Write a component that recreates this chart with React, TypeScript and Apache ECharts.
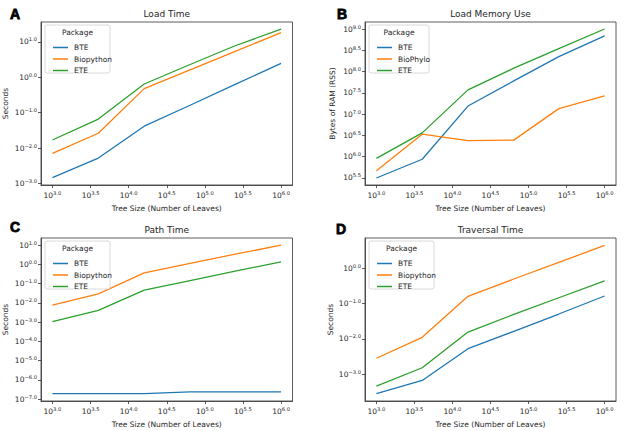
import React, { useEffect, useRef } from "react";
import * as echarts from "echarts";

// Tree sizes (number of leaves)
const treeSizes = [1000, 4000, 16000, 64000, 250000, 1000000];
const xTickExps = [3.0, 3.5, 4.0, 4.5, 5.0, 5.5, 6.0];

const loadTimeBTE = [-2.83, -2.28, -1.38, -0.79, -0.2, 0.39];
const loadTimeBiopython = [-2.15, -1.58, -0.32, 0.21, 0.73, 1.26];
const loadTimeETE = [-1.77, -1.18, -0.19, 0.36, 0.89, 1.36];
const loadTimeTicks = [-3, -2, -1, 0, 1];

const memoryBTE = [5.5, 5.94, 7.19, 7.78, 8.35, 8.84];
const memoryBioPhylo = [5.67, 6.53, 6.38, 6.39, 7.13, 7.43];
const memoryETE = [5.96, 6.56, 7.57, 8.08, 8.54, 9.0];
const memoryTicks = [5.5, 6, 6.5, 7, 7.5, 8, 8.5, 9];

const pathBTE = [-6.71, -6.71, -6.71, -6.62, -6.62, -6.62];
const pathBiopython = [-2.12, -1.53, -0.44, 0.05, 0.53, 1.0];
const pathETE = [-2.97, -2.39, -1.34, -0.84, -0.35, 0.13];
const pathTicks = [-7, -6, -5, -4, -3, -2, -1, 0, 1];

const traversalBTE = [-3.55, -3.18, -2.28, -1.79, -1.3, -0.79];
const traversalBiopython = [-2.55, -1.96, -0.8, -0.31, 0.16, 0.64];
const traversalETE = [-3.34, -2.82, -1.81, -1.31, -0.84, -0.36];
const traversalTicks = [-3, -2, -1, 0];

const COLORS = ["#1f77b4", "#ff7f0e", "#2ca02c"];
const FONT = "DejaVu Sans";
const TXT = "#262626";

const panels = [
  {
    letter: "A", title: "Load Time", yName: "Seconds",
    names: ["BTE", "Biopython", "ETE"],
    data: [loadTimeBTE, loadTimeBiopython, loadTimeETE],
    ticks: loadTimeTicks, yMin: -3.04, yMax: 1.56,
    grid: { left: 41, top: 22, width: 251.5, height: 163 },
    yNameGap: 32, legendBox: [45, 25, 65, 48],
    letterPos: [10, 7],
  },
  {
    letter: "B", title: "Load Memory Use", yName: "Bytes of RAM (RSS)",
    names: ["BTE", "BioPhylo", "ETE"],
    data: [memoryBTE, memoryBioPhylo, memoryETE],
    ticks: memoryTicks, yMin: 5.335, yMax: 9.165,
    grid: { left: 365, top: 22, width: 251, height: 163 },
    yNameGap: 29, legendBox: [369, 25, 60, 48],
    letterPos: [337, 7],
  },
  {
    letter: "C", title: "Path Time", yName: "Seconds",
    names: ["BTE", "Biopython", "ETE"],
    data: [pathBTE, pathBiopython, pathETE],
    ticks: pathTicks, yMin: -7.09, yMax: 1.37,
    grid: { left: 41, top: 238, width: 251.5, height: 163 },
    yNameGap: 32, legendBox: [45, 241, 65, 48],
    letterPos: [10, 220],
  },
  {
    letter: "D", title: "Traversal Time", yName: "Seconds",
    names: ["BTE", "Biopython", "ETE"],
    data: [traversalBTE, traversalBiopython, traversalETE],
    ticks: traversalTicks, yMin: -3.76, yMax: 0.85,
    grid: { left: 365, top: 238, width: 251, height: 163 },
    yNameGap: 29, legendBox: [369, 241, 65, 48],
    letterPos: [336, 222],
  },
];

const fmtExp = (v: number) => {
  const s = v.toFixed(1).replace("-", "\u2212");
  return `{b|10}{s|${s}}`;
};

const richLabel = {
  b: { fontSize: 7.5, fontFamily: FONT, color: TXT },
  s: { fontSize: 5.2, fontFamily: FONT, color: TXT, padding: [0, 0, 5, 0] },
};

export default function App() {
  const ref = useRef<HTMLDivElement>(null);
  useEffect(() => {
    if (!ref.current) return;
    const chart = echarts.init(ref.current, null, { renderer: "svg" });
    const logX = treeSizes.map((n) => Math.log10(n));

    const grids: any[] = [];
    const xAxes: any[] = [];
    const yAxes: any[] = [];
    const series: any[] = [];
    const legends: any[] = [];
    const titles: any[] = [];
    const graphics: any[] = [];

    panels.forEach((p, i) => {
      grids.push({
        ...p.grid,
        show: true,
        borderColor: "#333",
        borderWidth: 0.8,
        backgroundColor: "#fff",
        containLabel: false,
      });
      xAxes.push({
        type: "value",
        gridIndex: i,
        min: 2.85,
        max: 6.15,
        splitLine: { show: false },
        axisLine: { show: true, onZero: false, lineStyle: { color: "#333", width: 0.8 } },
        axisTick: { show: true, length: 3, customValues: xTickExps, lineStyle: { color: "#333", width: 0.8 } },
        axisLabel: {
          customValues: xTickExps,
          formatter: fmtExp,
          rich: richLabel,
          margin: 5,
          hideOverlap: false,
        },
        name: "Tree Size (Number of Leaves)",
        nameLocation: "middle",
        nameGap: 19,
        nameTextStyle: { fontSize: 7.5, fontFamily: FONT, color: TXT },
      });
      yAxes.push({
        type: "value",
        gridIndex: i,
        min: p.yMin,
        max: p.yMax,
        splitLine: { show: false },
        axisLine: { show: true, onZero: false, lineStyle: { color: "#333", width: 0.8 } },
        axisTick: { show: true, length: 3, customValues: p.ticks, lineStyle: { color: "#333", width: 0.8 } },
        axisLabel: {
          customValues: p.ticks,
          formatter: fmtExp,
          rich: richLabel,
          margin: 4,
          hideOverlap: false,
        },
        name: p.yName,
        nameLocation: "middle",
        nameRotate: 90,
        nameGap: p.yNameGap,
        nameTextStyle: { fontSize: 7.5, fontFamily: FONT, color: TXT },
      });
      p.names.forEach((name, k) => {
        series.push({
          type: "line",
          name,
          xAxisIndex: i,
          yAxisIndex: i,
          data: logX.map((x, j) => [x, p.data[k][j]]),
          showSymbol: false,
          symbol: "none",
          lineStyle: { color: COLORS[k], width: 1.3 },
          itemStyle: { color: COLORS[k] },
          z: 3,
        });
      });
      const [bx, by, bw, bh] = p.legendBox;
      legends.push({
        orient: "vertical",
        left: bx + 3,
        top: by + 13,
        data: p.names,
        icon: "rect",
        itemWidth: 15,
        itemHeight: 1.5,
        itemGap: 2.5,
        selectedMode: false,
        textStyle: { fontSize: 7.5, fontFamily: FONT, color: TXT, padding: [0, 0, 0, 1], lineHeight: 9 },
        z: 6,
      });
      graphics.push({
        type: "rect",
        shape: { x: bx, y: by, width: bw, height: bh, r: 2 },
        style: { fill: "rgba(255,255,255,0.8)", stroke: "#d0d0d0", lineWidth: 0.8 },
        z: 5,
      });
      graphics.push({
        type: "text",
        x: bx + bw / 2,
        y: by + 7.5,
        style: {
          text: "Package",
          fontSize: 7.5,
          fontFamily: FONT,
          fill: TXT,
          align: "center",
          verticalAlign: "middle",
        },
        z: 6,
      });
      titles.push({
        text: p.title,
        left: p.grid.left + p.grid.width / 2,
        top: p.grid.top - 13,
        padding: 0,
        textAlign: "center",
        textStyle: { fontSize: 9, fontWeight: "normal", fontFamily: FONT, color: TXT },
      });
      titles.push({
        text: p.letter,
        left: p.letterPos[0],
        top: p.letterPos[1],
        padding: 0,
        textStyle: {
          fontSize: 14,
          fontWeight: "bold",
          fontFamily: "Liberation Sans",
          color: "#000",
          textBorderColor: "#000",
          textBorderWidth: 0.8,
        },
      });
    });

    chart.setOption({
      animation: false,
      backgroundColor: "#fff",
      title: titles,
      grid: grids,
      xAxis: xAxes,
      yAxis: yAxes,
      legend: legends,
      series,
      graphic: graphics,
    });
    return () => chart.dispose();
  }, []);

  return (
    <div
      ref={ref}
      style={{ position: "absolute", left: 0, top: 0, width: 624, height: 431 }}
    />
  );
}
